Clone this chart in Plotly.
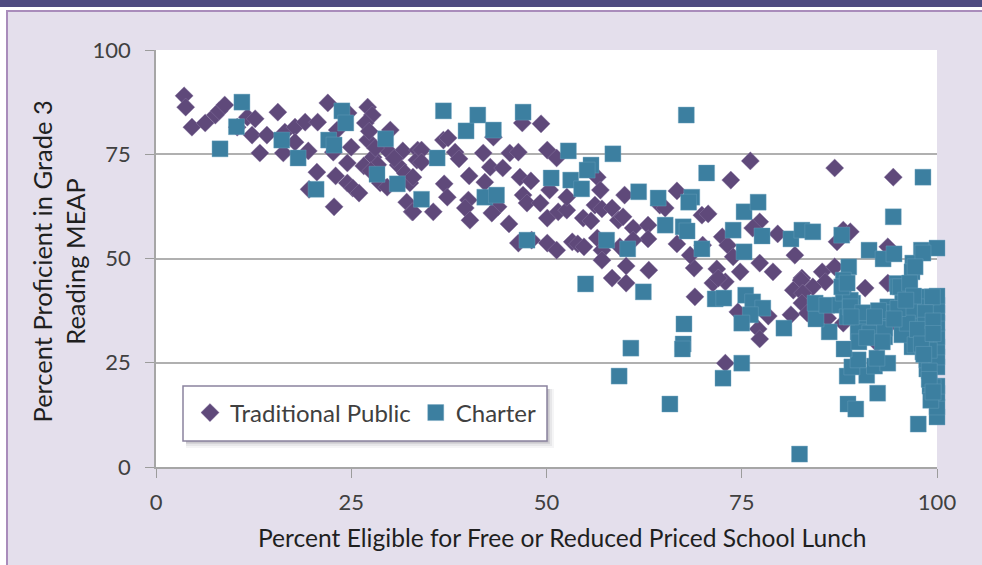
import plotly.graph_objects as go

trad_x = [3.6,3.8,4.6,6.3,7.6,8.1,8.8,11.7,12.7,10.4,12.3,14.2,13.3,15.6,16.3,16.5,17.8,19.1,20.7,17.8,19.5,20.6,19.6,22.8,
          22,24.6,23.2,25,24.5,23,24.5,25.2,26,22.7,27.1,27.7,26.8,27.1,27.8,26.6,28.7,30,29.6,31.6,31,31.9,32.5,32.1,32.8,29.6,33.5,33.4,
          27.3,28.1,28.4,27.5,30.5,
          34,34,32.9,32.9,35.5,36.8,37.4,38.3,38.8,36.9,37.3,40.1,40,39.6,40.2,43.2,41.9,42.8,42.1,44.4,45.3,46.4,43.8,43,45.2,
          46.6,48,47,47.5,49.2,50.4,46.9,49.3,50.1,51.3,50.1,51.5,52.6,52.6,46.4,48.1,50.1,51.3,53.3,54,54.8,54.7,55.7,56.5,57.1,57.1,58.4,60.2,60.2,63.1,
          56.5,56.9,56.2,57.1,58.4,59.2,59.8,60,61.1,63,63,61.1,59.4,64.5,
          66.7,65.2,69.9,70.7,76.1,73.6,86.9,94.4,77.3,76.4,72.5,73.2,73.9,79.6,81.8,77.3,79,74.8,71.8,68.9,68.4,66.7,70,
          85.3,86.9,87.2,88,88.9,93.7,82.7,71.3,72.9,72,69,74.5,78.4,81.3,77.1,77.3,72.9,82.6,81.6,83.4,
          85.7,84.1,82.8,90.8,93.7,82.7,83.4,86,88,94.1,92.3,96.9]
trad_y = [89,86.3,81.5,82.5,84.4,85.4,86.8,83.9,83.5,81.5,79.6,79.6,75.3,85.1,75.3,80.3,81.5,82.7,82.7,77.9,75.8,70.7,66.6,62.4,
          87.3,84.9,80.8,76.7,72.9,69.8,68.1,66.9,65.7,75.5,86.3,84.4,82.5,78.4,74.3,72.2,68.1,80.8,76,75.8,72.4,70.5,68.1,63.5,61.2,67.1,76,73.6,
          80.5,76.5,72.5,71,74,
          76,73.1,69.5,61.2,61.2,78.4,78.9,75.5,73.9,67.9,64.7,69.8,64,62.1,59.2,79.1,75.3,71.9,68.3,71.7,75.3,75.5,62.4,60.9,58.3,
          69.5,68.6,65.2,63.3,63.3,66.4,82.5,82.3,76,74.1,59.7,61.2,61.6,64.7,53.7,54.4,53.7,52,54,53.5,52.8,59.7,59,54.9,52,49.6,45.3,48.2,44.1,47.2,
          69.5,66.4,62.8,61.9,62.1,59.2,60,65.2,57.3,58,54.7,54.4,52.8,62.8,
          66.2,62.1,60.4,60.7,73.4,68.8,71.7,69.5,58.8,57.3,55.2,53.2,50.4,55.9,50.8,48.9,46.8,46.8,47.5,47.7,50.8,53.5,53.2,
          46.8,48,54,56.8,56.4,52.8,45.3,44.1,44.4,45.3,40.8,37.2,36.2,36.5,33.1,30.7,24.9,44.8,42.4,39.3,
          44.4,43.2,41.7,42.9,44.1,39.3,36.9,35.7,34.5,34.5,29.7,31.7]

charter_x = [11,10.3,8.2,16.1,18.2,22.1,22.8,23.8,24.3,20.5,28.3,29.4,30.9,34,36,36.8,39.7,41.2,43.2,42.1,43.6,
             47,52.8,58.5,50.6,53.1,55.7,55.2,54.5,47.5,57.7,60.4,55,62.4,61.8,64.3,65.2,
             67.9,70.5,68.6,68.2,67.5,68,69.9,73.9,75.3,77.1,77.6,75.3,81.3,82.7,84.1,87.8,94.4,98.2,91.3,93.1,94.5,88.7,88,
             98,100,96.9,98.2,96.8,94.9,71.6,72.7,75.5,76.4,77.7,76.1,75,67.6,60.8,67.5,67.4,59.3,65.8,72.6,75,82.4,80.4,
             97.6,92.4,88.6,89.6,100,100,100,99.1,100,98.7,100,88.5,91,89.1,89.9,92,93.7,92.3,88.1,98.7,96.8,98.2,100,100,100,100,100,100,100,
             98.7,97.4,96.5,95.6,95.5,97.6,93.7,95.6,96.5,95,93.3,92.3,91,89.9,91.4,93.3,86.2,84.5,84.4,85.9,87.6,89.2,88.5,88,88.9,
             97.2,95.3,96.5,99.4,96.5,96.2,97.2,99.5,87.8,88.5,88.9,
             98.5,98.5,98.5,99,97.5,99,99,98,97,94,92.5,90.5,90,91,93,89,92,95,96,98.3,99.2,99.5,99.5,99.5,94.5]
charter_y = [87.5,81.6,76.3,78.4,74.1,78.4,77.2,85.4,82.5,66.6,70.2,78.7,67.9,64.2,74.1,85.4,80.6,84.4,80.8,64.7,65.2,
             85.1,75.8,75.1,69.3,68.8,72.4,71.2,66.7,54.4,54.4,52.3,43.9,42,66,64.5,58,
             84.4,70.5,64.7,63.5,57.6,56.6,52.3,56.8,61.2,63.5,55.4,51.6,54.7,56.8,56.4,55.6,60,69.5,52,49.9,51.1,48,44.8,
             52,52.5,48.9,51.3,46.8,44,40.3,40.5,41.2,39.6,38.1,36.5,34.5,34.3,28.5,29.5,28.3,21.8,15.1,21.3,24.9,3.1,33.3,
             10.3,17.7,15.1,13.9,12,14.4,17.7,19.4,19.4,23.5,24,21.8,22,24,25.7,24.2,24.9,26.1,28.3,25.7,28.8,27.6,26.4,28.8,31.2,34.5,36.9,38.8,41,
             40.8,38.4,36.9,33.6,31.7,35.7,38.4,41.7,43.2,43.2,31.2,35.3,34.8,32.4,32.1,33.3,32.4,35.5,39.3,38.8,38.8,39.3,36,41.7,40,
             48,43.2,44.1,40.8,37.6,34.5,29.3,19.2,43.2,44.1,38.4,
             37,34,31,28,33,23,21,29.5,41,37,37.5,37,30,31,30,36,36,38,40,27,16,18,35,32,35.5]

x_ticks = [0, 25, 50, 75, 100]
y_ticks = [0, 25, 50, 75, 100]
x_title = "Percent Eligible for Free or Reduced Priced School Lunch"
y_title = "Percent Proficient in Grade 3<br>Reading MEAP"
series_names = ["Traditional Public", "Charter"]

W, H = 982, 565
L, R, T, B = 156, 937, 50, 467
FONT = "Lato"


def px(x):
    return (x - L) / (R - L)


def py(y):
    return (B - y) / (B - T)


def rect(x0, y0, x1, y1, **kw):
    return dict(type="rect", xref="paper", yref="paper", x0=px(x0), x1=px(x1), y0=py(y1), y1=py(y0),
                line=dict(width=kw.pop("lw", 0), color=kw.pop("lc", "rgba(0,0,0,0)")),
                fillcolor=kw.pop("fill"), layer=kw.pop("layer", "below"), **kw)


shapes = [
    rect(0, 0, W, 10, fill="#ffffff"),
    rect(0, 0, 6, H, fill="#ffffff"),
    rect(0, 0, W, 7, fill="#4f4b80"),
    rect(6, 10, 8, H, fill="#a98cbb"),
    rect(6, 10, W, 12, fill="#a98cbb"),
]
for off, alpha in [(7, 0.05), (5, 0.07), (3, 0.10), (1.5, 0.14)]:
    shapes.append(rect(186, 389, 547 + off, 441 + off, fill=f"rgba(60,50,70,{alpha})", layer="above"))
shapes.append(rect(183, 386, 547, 441, fill="#ffffff", lw=1.5, lc="#8b839f", layer="above"))

fig = go.Figure()
fig.add_trace(go.Scatter(x=trad_x, y=trad_y, mode="markers", name=series_names[0], cliponaxis=False,
                         marker=dict(symbol="diamond", size=14, color="#5f497a",
                                     line=dict(width=0.4, color="#8f7da8"))))
fig.add_trace(go.Scatter(x=charter_x, y=charter_y, mode="markers", name=series_names[1], cliponaxis=False,
                         marker=dict(symbol="square", size=16, color="#3c7fa0",
                                     line=dict(width=0.4, color="#6fa5bf"))))

annotations = [
    dict(text=x_title, xref="paper", yref="paper", x=px(561.5), y=py(537), xanchor="center", yanchor="middle",
         showarrow=False, font=dict(size=24.6, color="#1f1f1f")),
    dict(text=y_title, xref="paper", yref="paper", x=px(57.5), y=py(261), xanchor="center", yanchor="middle",
         textangle=-90, showarrow=False, align="center", font=dict(size=25.5, color="#1f1f1f")),
]

fig.update_layout(
    width=W, height=H, autosize=False,
    margin=dict(l=L, r=W - R, t=T, b=H - B, pad=0),
    paper_bgcolor="#e4dfec", plot_bgcolor="#ffffff",
    font=dict(family=FONT, color="#404040", size=22),
    shapes=shapes,
    annotations=annotations,
    showlegend=True,
    legend=dict(orientation="h", x=px(190), y=py(413), xanchor="left", yanchor="middle",
                bgcolor="rgba(0,0,0,0)", borderwidth=0, font=dict(size=24, color="#404040"),
                itemsizing="trace", traceorder="normal"),
    xaxis=dict(range=[0, 100], tickvals=x_ticks, ticks="outside", ticklen=9, tickwidth=1, tickcolor="#9c9c9c",
               showgrid=False, showline=True, linecolor="#a6a6a6", linewidth=1.5, zeroline=False,
               ticklabelstandoff=6, tickfont=dict(size=22, color="#404040")),
    yaxis=dict(range=[0, 100], tickvals=y_ticks, ticks="outside", ticklen=9, tickwidth=1, tickcolor="#9c9c9c",
               showgrid=True, gridcolor="#b0b0b0", gridwidth=1.5, showline=True, linecolor="#a6a6a6", linewidth=1.5,
               zeroline=False, ticklabelstandoff=10, tickfont=dict(size=22, color="#404040")),
)
fig.write_html("out.html", config={"displayModeBar": False},
               post_script="document.body.style.margin='0';document.body.style.background='#e4dfec';")
